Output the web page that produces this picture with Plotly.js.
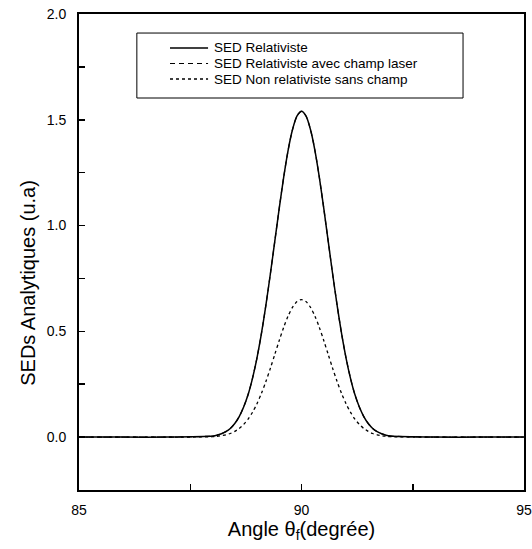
<!DOCTYPE html>
<html>
<head>
<meta charset="utf-8">
<script src="https://cdn.plot.ly/plotly-3.0.1.min.js"></script>
<style>html,body{margin:0;padding:0;background:#fff;}#chart{width:532px;height:549px;}</style>
</head>
<body>
<div id="chart"></div>
<script>
// Angle θf (degrees)
const angle = [85, 86, 87, 88, 88.1, 88.2, 88.3, 88.4, 88.5, 88.6, 88.7, 88.8, 88.9, 89, 89.1, 89.2, 89.3, 89.4, 89.5, 89.6, 89.7, 89.8, 89.9, 90,
  90.1, 90.2, 90.3, 90.4, 90.5, 90.6, 90.7, 90.8, 90.9, 91, 91.1, 91.2, 91.3, 91.4, 91.5, 91.6, 91.7, 91.8, 91.9, 92, 93, 94, 95];
// SED Relativiste
const sedRel = [0, 0, 0, 0.005, 0.009, 0.016, 0.026, 0.041, 0.064, 0.097, 0.142, 0.201, 0.279, 0.375, 0.490, 0.624, 0.771, 0.926, 1.082, 1.229, 1.357, 1.455, 1.518, 1.540,
  1.518, 1.455, 1.357, 1.229, 1.082, 0.926, 0.771, 0.624, 0.490, 0.375, 0.279, 0.201, 0.142, 0.097, 0.064, 0.041, 0.026, 0.016, 0.009, 0.005, 0, 0, 0];
// SED Relativiste avec champ laser
const sedRelLaser = [0, 0, 0, 0.005, 0.009, 0.016, 0.026, 0.041, 0.064, 0.097, 0.142, 0.201, 0.279, 0.375, 0.490, 0.624, 0.771, 0.926, 1.082, 1.229, 1.357, 1.455, 1.518, 1.540,
  1.518, 1.455, 1.357, 1.229, 1.082, 0.926, 0.771, 0.624, 0.490, 0.375, 0.279, 0.201, 0.142, 0.097, 0.064, 0.041, 0.026, 0.016, 0.009, 0.005, 0, 0, 0];
// SED Non relativiste sans champ
const sedNonRel = [0, 0, 0, 0.002, 0.004, 0.007, 0.011, 0.017, 0.027, 0.041, 0.060, 0.085, 0.118, 0.158, 0.207, 0.263, 0.325, 0.391, 0.457, 0.519, 0.573, 0.614, 0.641, 0.650,
  0.641, 0.614, 0.573, 0.519, 0.457, 0.391, 0.325, 0.263, 0.207, 0.158, 0.118, 0.085, 0.060, 0.041, 0.027, 0.017, 0.011, 0.007, 0.004, 0.002, 0, 0, 0];
const seriesNames = ['SED Relativiste', 'SED Relativiste avec champ laser', 'SED Non relativiste sans champ'];
const xTicks = [85, 90, 95];
const yTicks = [0, 0.5, 1.0, 1.5, 2.0];
const xTitle = 'Angle θ<sub>f</sub>(degrée)';
const yTitle = 'SEDs Analytiques (u.a)';

const FONT = 'Liberation Sans, Arial, Helvetica, sans-serif';
const styles = [
  {color: '#000', width: 1.5, dash: 'solid'},
  {color: '#000', width: 1.2, dash: '5px,4px'},
  {color: '#000', width: 1.3, dash: 'dot'}
];
const series = [sedRel, sedRelLaser, sedNonRel];
const traces = series.map((s, i) => ({
  x: angle, y: s, name: seriesNames[i], mode: 'lines',
  line: Object.assign({shape: 'spline', smoothing: 0.8}, styles[i])
}));

// custom legend (box, sample lines, labels) in paper coordinates
const legRowsY = [0.9286, 0.896, 0.8634];
const shapes = [{type: 'rect', xref: 'paper', yref: 'paper', x0: 0.130, x1: 0.863, y0: 0.8235, y1: 0.960,
  line: {color: '#000', width: 1}, fillcolor: 'rgba(0,0,0,0)'}];
const annotations = [];
seriesNames.forEach((n, i) => {
  shapes.push({type: 'line', xref: 'paper', yref: 'paper', x0: 0.2045, x1: 0.290, y0: legRowsY[i], y1: legRowsY[i],
    line: {color: '#000', width: styles[i].width, dash: styles[i].dash}});
  annotations.push({xref: 'paper', yref: 'paper', x: 0.299, y: legRowsY[i], xanchor: 'left', yanchor: 'middle',
    text: n, showarrow: false, font: {family: FONT, size: 13.5, color: '#000'}});
});
// y-axis title, placed lower than centre as in the reference
annotations.push({xref: 'paper', yref: 'paper', x: -0.115, y: 0.435, xanchor: 'center', yanchor: 'middle',
  text: yTitle, textangle: -90, showarrow: false, font: {family: FONT, size: 20, color: '#000'}});

const layout = {
  width: 532, height: 549,
  margin: {l: 79, r: 8, t: 14, b: 59},
  paper_bgcolor: '#fff', plot_bgcolor: '#fff',
  font: {family: FONT, color: '#000', size: 13},
  showlegend: false,
  shapes: shapes,
  annotations: annotations,
  xaxis: {
    range: [85, 95], tickvals: xTicks, ticktext: xTicks.map(String),
    ticks: 'inside', ticklen: 6, tickwidth: 1.5, tickcolor: '#000',
    minor: {dtick: 2.5, ticks: 'inside', ticklen: 6, tickwidth: 1.5, tickcolor: '#000'},
    showline: true, linecolor: '#000', linewidth: 2, mirror: true,
    showgrid: false, zeroline: false, ticklabelstandoff: 6,
    tickfont: {family: FONT, size: 14, color: '#000'},
    title: {text: xTitle, font: {family: FONT, size: 20, color: '#000'}, standoff: 3}
  },
  yaxis: {
    range: [-0.25, 2.0], tickvals: yTicks, ticktext: yTicks.map(v => v.toFixed(1)),
    ticks: 'inside', ticklen: 6, tickwidth: 1.5, tickcolor: '#000',
    minor: {dtick: 0.25, ticks: 'inside', ticklen: 6, tickwidth: 1.5, tickcolor: '#000'},
    showline: true, linecolor: '#000', linewidth: 2, mirror: true,
    showgrid: false, zeroline: false, ticklabelstandoff: 8,
    tickfont: {family: FONT, size: 14, color: '#000'}
  }
};
Plotly.newPlot('chart', traces, layout, {displayModeBar: false, staticPlot: true});
</script>
</body>
</html>
